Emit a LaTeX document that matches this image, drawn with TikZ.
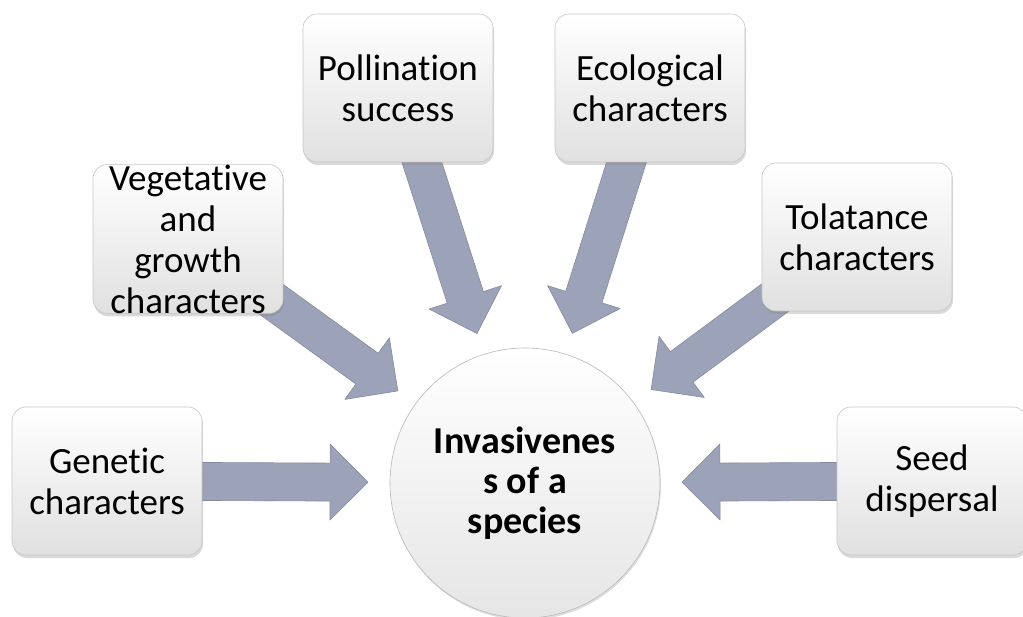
\documentclass[tikz,border=0pt]{standalone}
\usepackage{fontspec}
\setmainfont[Ligatures=NoCommon]{Carlito}
\usetikzlibrary{calc,shadows,backgrounds}
\definecolor{arrowgray}{RGB}{156,162,183}
\definecolor{arrowedge}{RGB}{132,138,160}
% block arrow from a factor box towards the central circle
\newcommand{\fatarrow}[1]{%
  \coordinate (tip#1) at ($(core)!157pt!(#1)$);
  \coordinate (neck#1) at ($(tip#1)!38pt!(#1)$);
  \filldraw[arrowbody] ($(#1)!19pt!90:(tip#1)$) -- ($(neck#1)!19pt!90:(tip#1)$)
    -- ($(neck#1)!38pt!90:(tip#1)$) -- (tip#1) -- ($(neck#1)!38pt!-90:(tip#1)$)
    -- ($(neck#1)!19pt!-90:(tip#1)$) -- ($(#1)!19pt!-90:(tip#1)$) -- cycle;}

\begin{document}
\begin{tikzpicture}[x=1pt, y=-1pt,
    factor/.style={draw=gray!45, line width=0.6pt, rounded corners=14pt,
      top color=white, bottom color=gray!24, minimum width=190pt,
      minimum height=148pt, inner sep=0pt, align=center,
      font=\fontsize{37}{41}\selectfont,
      drop shadow={shadow xshift=1pt, shadow yshift=-3pt, opacity=0.3}},
    core/.style={circle, draw=gray!55, line width=0.6pt, minimum size=270pt,
      inner sep=0pt, top color=white, bottom color=gray!20, align=center,
      font=\bfseries\fontsize{38}{40}\selectfont,
      drop shadow={shadow xshift=1pt, shadow yshift=-2pt, opacity=0.25}},
    arrowbody/.style={fill=arrowgray, draw=arrowedge, line width=0.6pt, line join=round}]
  \useasboundingbox (0,0) rectangle (1023,617);

  \node[core] (core) at (525,483) {Invasivenes\\s of a\\species};

  \node[factor] (pol) at (398,88) {Pollination\\success};
  \node[factor] (eco) at (650,88) {Ecological\\characters};
  \node[factor] (veg) at (188,239) {Vegetative\\and\\growth\\characters};
  \node[factor] (tol) at (857,237) {Tolatance\\characters};
  \node[factor] (gen) at (107,481) {Genetic\\characters};
  \node[factor] (seed) at (932,481) {Seed\\dispersal};

  \begin{scope}[on background layer]
    \fatarrow{pol}
    \fatarrow{eco}
    \fatarrow{veg}
    \fatarrow{tol}
    \fatarrow{gen}
    \fatarrow{seed}
  \end{scope}
\end{tikzpicture}
\end{document}
